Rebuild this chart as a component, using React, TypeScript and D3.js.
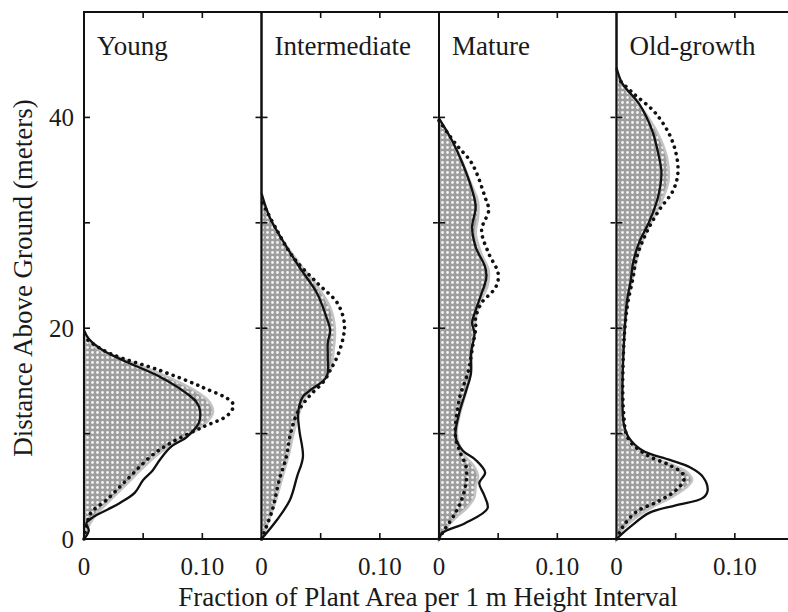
import React, { useEffect, useRef } from "react";
import * as d3 from "d3";

type Pt = [number, number]; // [height m, fraction]

const panelNames = ["Young", "Intermediate", "Mature", "Old-growth"];
const xTickVals = [0.05, 0.1];
const xTickLabels = ["0", "0.10"];
const yTickVals = [10, 20, 30, 40];
const yTickLabels = [0, 20, 40];

// shaded profile
const youngShade: Pt[] = [[0, 0], [1, 0.003], [2, 0.008], [3, 0.016], [4, 0.025], [5, 0.034], [6, 0.043], [7, 0.052], [8, 0.062], [9, 0.075], [10, 0.09], [11, 0.103], [12, 0.109], [13, 0.106], [14, 0.095], [15, 0.078], [16, 0.058], [17, 0.035], [18, 0.012], [19, 0.002], [19.5, 0]];
const youngSolid: Pt[] = [[0, 0], [0.8, 0.004], [1.5, 0.002], [2.1, 0.008], [2.8, 0.02], [3.4, 0.03], [4.4, 0.043], [5.6, 0.05], [6.5, 0.058], [7.5, 0.064], [8.7, 0.073], [9.7, 0.087], [11, 0.097], [12.2, 0.098], [13, 0.095], [13.8, 0.087], [15.4, 0.064], [16.8, 0.036], [17.9, 0.016], [19, 0.004], [19.8, 0]];
const youngDotted: Pt[] = [[0, 0], [1.2, 0.002], [2.5, 0.006], [3.7, 0.019], [5.6, 0.036], [7.8, 0.056], [9.1, 0.073], [10.6, 0.1], [11.7, 0.121], [12.5, 0.126], [13, 0.125], [14.4, 0.1], [16, 0.064], [17.6, 0.022], [18.9, 0.003], [19.3, 0]];

const interShade: Pt[] = [[0, 0], [2, 0.007], [4, 0.013], [6, 0.018], [8, 0.023], [10, 0.027], [12, 0.032], [13.5, 0.037], [14.5, 0.047], [16, 0.058], [18, 0.061], [20, 0.062], [22, 0.058], [24, 0.047], [26, 0.033], [28, 0.02], [30, 0.009], [32, 0.002], [32.8, 0]];
const interSolid: Pt[] = [[0, 0], [1.8, 0.013], [3.7, 0.024], [5.9, 0.03], [7.8, 0.035], [10.3, 0.032], [12, 0.031], [13.5, 0.035], [14.1, 0.041], [15.4, 0.055], [17.3, 0.056], [18.6, 0.056], [19.8, 0.058], [21, 0.055], [23.3, 0.047], [25.8, 0.032], [28.3, 0.018], [30.5, 0.007], [32.8, 0]];
const interDotted: Pt[] = [[0, 0], [2.7, 0.009], [5.6, 0.015], [7.8, 0.021], [9.7, 0.024], [11.9, 0.03], [13.5, 0.04], [15, 0.053], [16, 0.058], [17.3, 0.064], [19.1, 0.069], [20.5, 0.07], [22.4, 0.064], [24.3, 0.047], [26.7, 0.027], [29.3, 0.013], [32.1, 0]];

const matureShade: Pt[] = [[0, 0], [1, 0.006], [2, 0.014], [3, 0.024], [4, 0.03], [5, 0.031], [6, 0.033], [7, 0.029], [8, 0.021], [10, 0.015], [12, 0.018], [14, 0.023], [16, 0.027], [18, 0.028], [20, 0.03], [22, 0.033], [24, 0.041], [25.5, 0.042], [27, 0.036], [29, 0.031], [30.5, 0.033], [32, 0.033], [34, 0.026], [36, 0.019], [38, 0.01], [39.8, 0]];
const matureSolid: Pt[] = [[0, 0], [0.6, 0.003], [1.5, 0.022], [2.9, 0.041], [4.2, 0.038], [5.3, 0.034], [6.3, 0.039], [7.5, 0.031], [8.4, 0.02], [9.7, 0.014], [11.9, 0.017], [14.1, 0.023], [15.7, 0.027], [17.6, 0.027], [19.5, 0.03], [20.5, 0.028], [21.7, 0.031], [23.3, 0.036], [24.8, 0.04], [25.8, 0.039], [27.7, 0.031], [29.6, 0.028], [31.5, 0.031], [33.1, 0.028], [35.6, 0.02], [37.8, 0.011], [39.9, 0]];
const matureDotted: Pt[] = [[0, 0], [0.6, 0.003], [2.5, 0.014], [4, 0.02], [5.5, 0.023], [6.8, 0.023], [8.2, 0.018], [9.7, 0.014], [13.2, 0.017], [16, 0.025], [18, 0.028], [20, 0.031], [21, 0.031], [22.4, 0.036], [23.9, 0.048], [25.2, 0.05], [27.1, 0.042], [29.3, 0.036], [31.2, 0.042], [32.4, 0.039], [35.6, 0.028], [37.5, 0.014], [39.7, 0]];

const oldShade: Pt[] = [[0, 0], [1, 0.006], [2, 0.016], [3, 0.03], [4, 0.047], [5, 0.06], [5.6, 0.064], [6.3, 0.06], [7, 0.048], [8, 0.025], [9, 0.012], [10, 0.008], [13, 0.005], [18, 0.006], [22, 0.009], [25, 0.014], [28, 0.021], [30, 0.029], [32, 0.038], [34, 0.044], [36, 0.043], [38, 0.037], [40, 0.027], [42, 0.013], [43.5, 0.003], [44.3, 0]];
const oldSolid: Pt[] = [[0, 0], [1.1, 0.011], [2.5, 0.028], [3.2, 0.05], [3.9, 0.073], [4.6, 0.077], [5.9, 0.073], [6.8, 0.062], [7.5, 0.045], [8.4, 0.022], [9.7, 0.01], [11, 0.006], [13, 0.005], [18, 0.006], [22.7, 0.009], [24.5, 0.012], [26.2, 0.014], [28.1, 0.019], [30.2, 0.028], [32.4, 0.035], [34.7, 0.038], [36.2, 0.036], [38.8, 0.03], [41.3, 0.019], [43.2, 0.005], [44.7, 0]];
const oldDotted: Pt[] = [[0, 0], [1.1, 0.005], [2.6, 0.017], [3.5, 0.034], [4.6, 0.05], [5.6, 0.057], [6.2, 0.056], [7, 0.045], [8, 0.025], [9.5, 0.01], [12, 0.006], [18, 0.006], [22, 0.009], [24.8, 0.014], [26.7, 0.017], [29, 0.025], [31.2, 0.036], [33.1, 0.048], [35, 0.052], [37.8, 0.047], [40.4, 0.033], [42.3, 0.014], [43.8, 0]];

const shades = [youngShade, interShade, matureShade, oldShade];
const solids = [youngSolid, interSolid, matureSolid, oldSolid];
const dotteds = [youngDotted, interDotted, matureDotted, oldDotted];

const App: React.FC = () => {
  const svgRef = useRef<SVGSVGElement | null>(null);

  useEffect(() => {
    const width = 788, height = 612;
    const left = 84, top = 12, bottom = 539, panelW = 177.5;
    const font = "'Liberation Serif', 'Times New Roman', serif";

    const svg = d3.select(svgRef.current).attr("width", width).attr("height", height);
    svg.selectAll("*").remove();

    const defs = svg.append("defs");
    const pat = defs.append("pattern")
      .attr("id", "dots").attr("width", 5).attr("height", 5)
      .attr("patternUnits", "userSpaceOnUse");
    pat.append("rect").attr("width", 5).attr("height", 5).attr("fill", "#9e9e9e");
    pat.append("circle").attr("cx", 2.5).attr("cy", 2.5).attr("r", 1.4).attr("fill", "#f4f4f4");

    const y = d3.scaleLinear().domain([0, 50]).range([bottom, top]);

    panelNames.forEach((name, i) => {
      const x0 = left + i * panelW;
      const x = d3.scaleLinear().domain([0, 0.15]).range([x0, x0 + panelW]);
      const g = svg.append("g");

      const area = d3.area<Pt>()
        .y(d => y(d[0])).x0(x(0)).x1(d => x(d[1]))
        .curve(d3.curveCatmullRom);
      g.append("path").datum(shades[i])
        .attr("fill", "url(#dots)")
        .attr("stroke", "#c4c4c4").attr("stroke-width", 2.5)
        .attr("d", area);

      // frame
      g.append("rect")
        .attr("x", x(0)).attr("y", top)
        .attr("width", panelW).attr("height", bottom - top)
        .attr("fill", "none").attr("stroke", "#111").attr("stroke-width", 2);

      // ticks
      xTickVals.forEach(v => {
        g.append("line").attr("x1", x(v)).attr("x2", x(v)).attr("y1", bottom).attr("y2", bottom - 6)
          .attr("stroke", "#111").attr("stroke-width", 1.6);
        g.append("line").attr("x1", x(v)).attr("x2", x(v)).attr("y1", top).attr("y2", top + 6)
          .attr("stroke", "#111").attr("stroke-width", 1.6);
      });
      yTickVals.forEach(h => {
        g.append("line").attr("x1", x(0)).attr("x2", x(0) + 6).attr("y1", y(h)).attr("y2", y(h))
          .attr("stroke", "#111").attr("stroke-width", 1.6);
        g.append("line").attr("x1", x(0.15) - 6).attr("x2", x(0.15)).attr("y1", y(h)).attr("y2", y(h))
          .attr("stroke", "#111").attr("stroke-width", 1.6);
      });

      const line = d3.line<Pt>()
        .y(d => y(d[0])).x(d => x(d[1]))
        .curve(d3.curveCatmullRom);
      g.append("path").datum(dotteds[i])
        .attr("fill", "none").attr("stroke", "#111").attr("stroke-width", 3.6)
        .attr("stroke-linecap", "round").attr("stroke-dasharray", "0.1 6.5")
        .attr("d", line);
      g.append("path").datum(solids[i])
        .attr("fill", "none").attr("stroke", "#111").attr("stroke-width", 2.3)
        .attr("stroke-linejoin", "round")
        .attr("d", line);

      // tick labels
      [0, 0.1].forEach((v, k) => {
        g.append("text").attr("x", x(v)).attr("y", 575)
          .attr("text-anchor", "middle").attr("font-family", font).attr("font-size", 25)
          .attr("fill", "#1a1a1a").text(xTickLabels[k]);
      });

      g.append("text").attr("x", x0 + 13).attr("y", 55)
        .attr("font-family", font).attr("font-size", 27).attr("fill", "#1a1a1a").text(name);
    });

    yTickLabels.forEach(h => {
      svg.append("text").attr("x", 74).attr("y", y(h)).attr("dy", "0.35em")
        .attr("text-anchor", "end").attr("font-family", font).attr("font-size", 25)
        .attr("fill", "#1a1a1a").text(h);
    });

    svg.append("text")
      .attr("x", 428).attr("y", 606)
      .attr("text-anchor", "middle").attr("font-family", font).attr("font-size", 27)
      .attr("fill", "#1a1a1a").text("Fraction of Plant Area per 1 m Height Interval");

    svg.append("text")
      .attr("transform", "translate(32,278) rotate(-90)")
      .attr("text-anchor", "middle").attr("font-family", font).attr("font-size", 27)
      .attr("fill", "#1a1a1a").text("Distance Above Ground (meters)");
  }, []);

  return <svg ref={svgRef} style={{ position: "absolute", left: 0, top: 0, background: "#fff" }}></svg>;
};

export default App;
